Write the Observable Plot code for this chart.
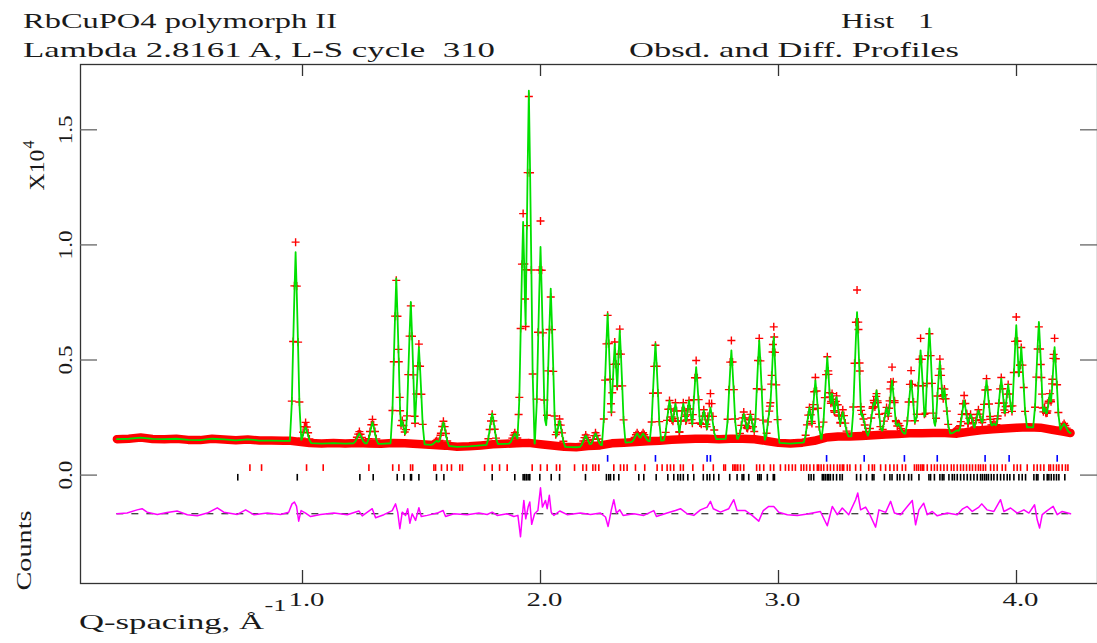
<!DOCTYPE html>
<html>
<head>
<meta charset="utf-8">
<script src="https://cdn.jsdelivr.net/npm/d3@7"></script>
<script src="https://cdn.jsdelivr.net/npm/@observablehq/plot@0.6"></script>
<style>
  html, body { margin: 0; padding: 0; background: #fff; }
  #titles, #chart svg { display: block; }
  #titles text { white-space: pre; }
</style>
</head>
<body>
<svg id="titles" width="1097" height="62"></svg>
<div id="chart"></div>
<script>
// ---------------- data ----------------
const titleLeft = ["RbCuPO4 polymorph II", "Lambda 2.8161 A, L-S cycle  310"];
const titleRight = ["Hist   1", "Obsd. and Diff. Profiles"];
const xLabel = "Q-spacing, Å";
const xLabelExp = "-1";
const yScaleLabel = "X10";
const yScaleExp = "4";
const yUnitLabel = "Counts";

const xTicks = [1.0, 2.0, 3.0, 4.0];
const yTicks = [0.0, 0.5, 1.0, 1.5];

// background of observed/calculated profile (units of 10^4 counts)
const bgQ = [0.22,0.27,0.32,0.37,0.42,0.47,0.52,0.57,0.62,0.67,0.72,0.77,0.82,0.87,0.92,0.95,
  1.03,1.08,1.13,1.18,1.23,1.28,1.33,1.38,1.43,
  1.5,1.55,1.6,1.65,1.7,1.75,1.8,1.85,1.9,1.95,2.0,2.05,2.1,2.15,2.2,2.25,2.3,2.35,2.4,2.45,
  2.5,2.55,2.6,2.65,2.7,2.75,2.8,2.85,2.9,2.95,3.0,3.05,3.1,3.15,3.2,3.25,3.3,3.35,3.4,3.45,
  3.5,3.55,3.6,3.65,3.7,3.75,3.8,3.85,3.9,3.95,4.0,4.05,4.1,4.15,4.2,4.227];
const bgI = [0.156,0.158,0.163,0.157,0.156,0.158,0.153,0.152,0.158,0.155,0.151,0.155,0.150,0.150,0.149,0.149,
  0.139,0.137,0.139,0.137,0.139,0.137,0.136,0.139,0.138,
  0.134,0.131,0.128,0.123,0.125,0.129,0.134,0.136,0.138,0.140,0.134,0.129,0.123,0.121,0.126,0.129,0.138,0.141,0.144,0.147,
  0.149,0.154,0.156,0.158,0.158,0.156,0.158,0.158,0.156,0.148,0.140,0.137,0.141,0.149,0.163,0.168,0.168,0.170,0.173,0.176,
  0.178,0.182,0.182,0.183,0.183,0.180,0.188,0.195,0.199,0.202,0.206,0.208,0.206,0.197,0.188,0.183];

// Bragg peaks: position, observed apex, calculated apex
const peakQ = [0.971,1.013,1.239,1.294,1.394,1.419,1.455,1.489,1.564,1.592,
  1.797,1.892,1.927,1.951,2.0,2.043,2.08,2.19,2.231,2.282,
  2.312,2.333,2.406,2.431,2.483,2.542,2.567,2.6,2.624,2.654,
  2.686,2.714,2.802,2.854,2.882,2.919,2.966,2.98,3.13,3.155,
  3.205,3.225,3.244,3.27,3.33,3.352,3.4,3.412,3.454,3.477,
  3.504,3.557,3.597,3.634,3.678,3.697,3.75,3.78,3.807,3.84,
  3.874,3.905,3.936,3.965,3.999,4.02,4.094,4.118,4.14,4.16,4.2];
const peakObs = [1.012,0.229,0.189,0.242,0.846,0.237,0.735,0.569,0.150,0.234,
  0.264,0.184,1.136,1.645,1.104,0.774,0.244,0.174,0.184,0.694,
  0.578,0.634,0.184,0.184,0.564,0.324,0.314,0.314,0.324,0.498,
  0.284,0.354,0.585,0.274,0.264,0.594,0.314,0.644,0.294,0.424,
  0.514,0.354,0.344,0.284,0.804,0.264,0.324,0.354,0.294,0.469,
  0.224,0.454,0.594,0.614,0.504,0.374,0.200,0.346,0.264,0.284,
  0.419,0.224,0.424,0.394,0.687,0.554,0.644,0.294,0.354,0.594,0.224];
const peakCalc = [0.968,0.208,0.181,0.230,0.854,0.234,0.752,0.556,0.149,0.230,
  0.268,0.181,1.100,1.670,0.991,0.810,0.237,0.172,0.181,0.701,
  0.571,0.629,0.181,0.181,0.571,0.324,0.311,0.310,0.324,0.469,
  0.281,0.294,0.542,0.266,0.264,0.584,0.311,0.600,0.294,0.411,
  0.513,0.354,0.339,0.274,0.708,0.266,0.314,0.368,0.294,0.411,
  0.224,0.411,0.542,0.637,0.494,0.375,0.195,0.324,0.264,0.281,
  0.411,0.224,0.419,0.394,0.651,0.556,0.665,0.294,0.354,0.556,0.223];
// peak profile: distance from centre (Q) and fraction of height
const peakOffsets = [0, 0.005, 0.0105, 0.016, 0.024];
const peakShape = [1, 0.78, 0.5, 0.2, 0];

// difference curve (obs - calc), plotted about an offset baseline
const diffOffset = -0.168;
const diffQ = [0.22,0.263,0.305,0.326,0.347,0.39,0.431,0.473,0.516,0.558,0.6,0.642,0.669,0.726,0.761,0.795,0.852,0.908,0.942,0.956,0.966,0.975,0.984,0.994,
  1.013,1.034,1.076,1.132,1.188,1.237,1.251,1.293,1.307,1.342,1.377,1.391,1.4,1.409,1.419,1.433,1.442,1.451,1.461,1.475,1.489,1.499,1.524,1.566,1.591,1.601,1.636,1.692,1.741,1.776,1.797,1.818,1.86,1.888,1.905,1.916,1.923,1.93,1.938,1.948,1.955,1.963,1.975,1.989,
  2.0,2.008,2.021,2.028,2.037,2.045,2.056,2.081,2.112,2.168,2.21,2.252,2.273,2.284,2.297,2.308,2.319,2.333,2.347,2.392,2.434,2.476,2.487,2.532,2.567,2.588,2.616,2.644,2.672,2.7,2.714,2.726,2.756,2.791,2.812,2.826,2.861,2.889,2.917,2.936,2.959,2.98,
  3.001,3.037,3.079,3.121,3.176,3.205,3.226,3.247,3.268,3.295,3.324,3.333,3.345,3.366,3.384,3.408,3.422,3.45,3.471,3.487,3.513,3.562,3.576,3.59,3.61,3.625,3.646,3.667,3.709,3.751,3.772,3.793,3.814,3.842,3.854,3.876,3.905,3.933,3.947,3.975,
  4.003,4.031,4.052,4.076,4.087,4.097,4.108,4.129,4.154,4.171,4.192,4.227];
const diffV = [0,0.003,0.017,0.022,0.007,-0.003,0.006,0.012,-0.004,-0.009,0.003,0.026,0.007,-0.003,0.017,-0.004,0.003,-0.003,0.007,0.043,0.051,0.032,-0.032,0.014,
  0.003,-0.012,-0.003,0.003,-0.004,0.012,-0.009,0.022,-0.017,-0.004,0.014,0.043,0.007,-0.065,0.007,-0.007,0.022,-0.041,0,-0.029,0.026,-0.012,-0.007,0.003,0.014,-0.012,0,-0.004,0.003,-0.003,0.007,-0.007,0,-0.012,-0.007,-0.1,-0.014,0.058,-0.022,0.029,0.051,-0.046,0,0.014,
  0.113,0.029,0.058,0.022,0.08,0.007,-0.007,0.012,-0.004,0.003,-0.003,0.003,-0.014,-0.055,0.014,0.061,0.003,0.017,-0.007,0,-0.007,0.014,-0.012,0.003,0.014,0.022,0,-0.007,0.017,0.029,0.054,0.022,0.007,0.022,0.061,0.014,0.014,-0.007,-0.032,0.014,0.032,0.032,
  0.007,-0.004,-0.007,-0.001,0.01,-0.052,0.032,-0.004,0.025,-0.004,0.061,0.09,0.017,0.029,-0.004,-0.058,0.017,0.006,0.054,0.003,-0.004,0.058,-0.048,0.017,0.046,-0.004,0.01,-0.009,0.003,-0.004,0.02,0.032,0.01,0.029,0.043,0.017,0.01,0.061,0.01,0.025,
  0.003,0.017,0.003,0.039,-0.026,-0.062,-0.004,0.014,0.032,-0.004,0.01,0];

// reflection markers of the three phases
const blueTicks = [2.282,2.483,2.7,2.714,3.202,3.36,3.529,3.667,3.868,3.969,4.171];
const redTicks = [0.779,0.828,1.017,1.087,1.279,1.379,1.405,1.454,1.463,1.552,1.559,1.584,1.608,1.626,1.661,1.672,1.765,1.797,1.828,1.86,1.965,2.0,2.028,2.067,2.081,2.143,2.178,2.193,2.22,2.231,2.245,2.308,2.336,2.35,2.364,2.399,2.438,2.49,2.511,2.532,2.546,2.56,2.588,2.6,2.64,2.684,2.726,2.77,2.777,2.808,2.815,2.821,2.829,2.84,2.854,2.908,2.921,2.938,2.966,2.98,
  3.008,3.029,3.043,3.058,3.071,3.095,3.106,3.118,3.132,3.148,3.163,3.169,3.179,3.19,3.205,3.218,3.232,3.247,3.258,3.268,3.274,3.289,3.3,3.324,3.345,3.379,3.394,3.403,3.429,3.45,3.468,3.485,3.499,3.52,3.534,3.571,3.58,3.588,3.597,3.604,3.61,3.625,3.642,3.655,3.667,3.681,3.695,3.709,3.726,3.737,3.751,3.765,3.777,3.79,3.803,3.815,3.828,3.84,3.849,3.86,3.87,3.891,3.905,3.919,3.94,3.954,3.989,4.003,4.017,4.045,4.073,4.087,4.101,4.115,4.136,4.143,4.155,4.168,4.178,4.192,4.206,4.216];
const blackTicks = [0.728,0.978,1.241,1.297,1.398,1.426,1.454,1.458,1.489,1.563,1.594,1.797,1.892,1.927,1.934,1.941,1.948,1.955,1.997,2.045,2.08,2.189,2.277,2.287,2.294,2.308,2.329,2.413,2.434,2.486,2.535,2.56,2.577,2.588,2.6,2.619,2.644,2.684,2.7,2.711,2.728,2.749,2.795,2.826,2.847,2.854,2.875,2.913,2.92,2.927,2.953,2.978,2.983,
  3.127,3.137,3.148,3.184,3.19,3.197,3.205,3.211,3.218,3.23,3.244,3.258,3.268,3.328,3.345,3.37,3.394,3.401,3.445,3.468,3.477,3.499,3.51,3.527,3.547,3.559,3.59,3.632,3.639,3.655,3.678,3.688,3.695,3.716,3.73,3.739,3.751,3.765,3.779,3.793,3.807,3.821,3.835,3.849,3.857,3.866,3.874,3.882,3.894,3.905,3.919,3.933,3.947,3.961,3.972,3.989,4.01,4.024,4.038,4.073,4.084,4.09,4.115,4.129,4.136,4.146,4.157,4.168,4.178,4.203];
const blueRow = [0.056, 0.085];
const redRow = [0.016, 0.045];
const blackRow = [-0.026, 0.003];

// ---------------- build tables ----------------
const bgAt = d3.scaleLinear().domain(bgQ).range(bgI).clamp(true);
const shapeAt = d3.scaleLinear().domain(peakOffsets).range(peakShape).clamp(true);
const maxOff = peakOffsets[peakOffsets.length - 1];
function profileAt(apex, q) {
  let m = 0;
  for (let i = 0; i < peakQ.length; i++) {
    const d = Math.abs(q - peakQ[i]);
    if (d < maxOff) {
      const h = (apex[i] - bgAt(peakQ[i])) * shapeAt(d);
      if (h > m) m = h;
    }
  }
  return bgAt(q) + m;
}
const knotQ = peakQ.flatMap(p => [
  ...peakOffsets.slice().reverse().map(o => p - o),
  ...peakOffsets.slice(1).map(o => p + o)
]);
const sampleQ = Array.from(new Set([...bgQ, ...knotQ].map(q => +q.toFixed(5)))).sort((a, b) => a - b);
const calcLine = sampleQ.map(q => ({q, v: profileAt(peakCalc, q)}));
const obsKnots = peakQ.flatMap(p => [
  ...peakOffsets.slice(0, -1).reverse().map(o => p - o),
  ...peakOffsets.slice(1, -1).map(o => p + o)
]);
const obsPts = obsKnots.map(q => ({q, v: profileAt(peakObs, q)}));
const bgData = bgQ.map((q, i) => ({q, v: bgI[i]}));
const diffData = diffQ.map((q, i) => ({q, v: diffOffset + diffV[i]}));

// ---------------- titles ----------------
const FONT = "'Liberation Serif', 'DejaVu Serif', serif";
const INK = "#1a1a1a";
const tsvg = d3.select("#titles");
function title(text, x, y, w) {
  tsvg.append("text").attr("x", x).attr("y", y)
    .attr("font-family", FONT).attr("font-size", 22).attr("fill", INK)
    .attr("textLength", w).attr("lengthAdjust", "spacingAndGlyphs")
    .text(text);
}
title(titleLeft[0], 23, 28, 314);
title(titleLeft[1], 23, 57, 472);
title(titleRight[0], 841, 28, 93);
title(titleRight[1], 629, 57, 330);

// ---------------- plot ----------------
const fmt = d3.format(".1f");
const chart = Plot.plot({
  width: 1097,
  height: 581,
  marginLeft: 80,
  marginRight: 0,
  marginTop: 2,
  marginBottom: 60,
  x: {domain: [0.0672, 4.3403], axis: null},
  y: {domain: [-0.4709, 1.7837], axis: null},
  style: {fontFamily: FONT, background: "white", overflow: "visible", color: INK},
  marks: [
    Plot.line(bgData, {x: "q", y: "v", stroke: "#ff0000", strokeWidth: 8.5, strokeLinejoin: "round"}),
    Plot.dot(obsPts, {x: "q", y: "v", symbol: "plus", r: 2.7, stroke: "#ff0000", strokeWidth: 1.4}),
    Plot.line(calcLine, {x: "q", y: "v", stroke: "#00e000", strokeWidth: 1.8}),
    Plot.ruleX(blueTicks, {x: d => d, y1: blueRow[0], y2: blueRow[1], stroke: "#0000ff", strokeWidth: 1.6}),
    Plot.ruleX(redTicks, {x: d => d, y1: redRow[0], y2: redRow[1], stroke: "#ff0000", strokeWidth: 1.6}),
    Plot.ruleX(blackTicks, {x: d => d, y1: blackRow[0], y2: blackRow[1], stroke: "#000000", strokeWidth: 1.6}),
    Plot.ruleY([diffOffset], {x1: diffQ[0], x2: diffQ[diffQ.length - 1], stroke: "#000", strokeWidth: 1, strokeDasharray: "7,8"}),
    Plot.line(diffData, {x: "q", y: "v", stroke: "#ff00ff", strokeWidth: 1.5}),
    Plot.frame({stroke: "#333", strokeWidth: 1.3}),
    Plot.tickX(xTicks, {x: d => d, insetTop: 506, stroke: "#333", strokeWidth: 1.3}),
    Plot.tickX(xTicks, {x: d => d, insetBottom: 507, stroke: "#333", strokeWidth: 1.3}),
    Plot.tickY(yTicks, {y: d => d, insetRight: 1000, stroke: "#666", strokeWidth: 1.3}),
    Plot.tickY(yTicks, {y: d => d, insetLeft: 1000, stroke: "#666", strokeWidth: 1.3}),
    Plot.text(xTicks, {x: d => d, text: d => fmt(d), frameAnchor: "bottom", textAnchor: "middle", lineAnchor: "top", dy: 9, dx: 4, fontSize: 19, fill: INK}),
    Plot.text(yTicks, {y: d => d, text: d => fmt(d), frameAnchor: "left", textAnchor: "middle", dx: -14.5, rotate: -90, fontSize: 19, fill: INK}),
    Plot.text([xLabel], {text: d => d, frameAnchor: "bottom-left", textAnchor: "start", dx: -1.5, dy: 45, fontSize: 21, fill: INK}),
    Plot.text([xLabelExp], {text: d => d, frameAnchor: "bottom-left", textAnchor: "start", dx: 184, dy: 27, fontSize: 17, fill: INK}),
    Plot.text([yScaleLabel], {text: d => d, frameAnchor: "top-left", textAnchor: "middle", dx: -51, dy: 105.5, rotate: -90, fontSize: 21, fill: INK}),
    Plot.text([yScaleExp], {text: d => d, frameAnchor: "top-left", textAnchor: "middle", dx: -58, dy: 80, rotate: -90, fontSize: 16, fill: INK}),
    Plot.text([yUnitLabel], {text: d => d, frameAnchor: "bottom-left", textAnchor: "middle", dx: -50, dy: -33, rotate: -90, fontSize: 21, fill: INK})
  ]
});
document.getElementById("chart").appendChild(chart);

// stretch texts to the wide plotter lettering of the original
const tickSet = new Set(xTicks.concat(yTicks).map(fmt));
d3.select(chart).selectAll("text").each(function () {
  const t = this.textContent;
  const rotated = (this.getAttribute("transform") || "").includes("rotate");
  let w = null;
  if (tickSet.has(t)) w = rotated ? 29 : 36;
  else if (t === xLabel) w = 185;
  else if (t === xLabelExp) w = 22;
  else if (t === yScaleLabel) w = 41;
  else if (t === yUnitLabel) w = 80;
  if (w) this.setAttribute("textLength", w), this.setAttribute("lengthAdjust", "spacingAndGlyphs");
});
</script>
</body>
</html>
